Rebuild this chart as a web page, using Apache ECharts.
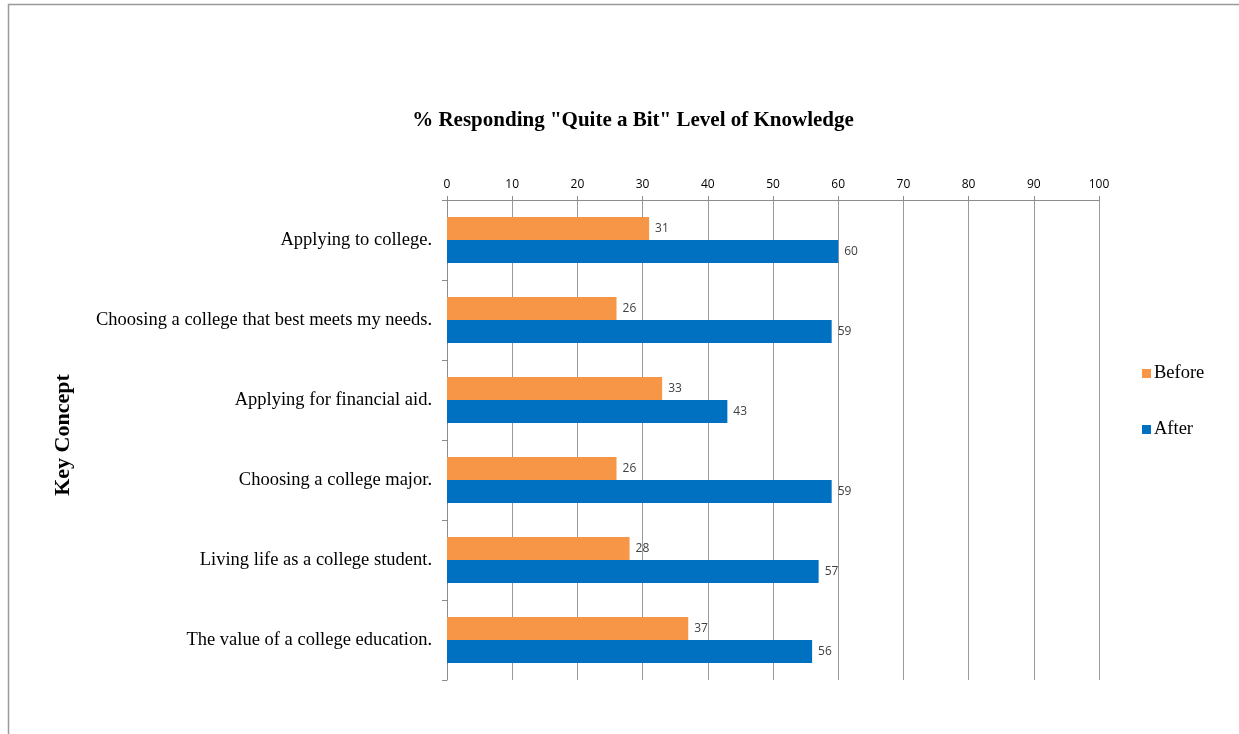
<!DOCTYPE html>
<html>
<head>
<meta charset="utf-8">
<script src="https://cdn.jsdelivr.net/npm/echarts@6/dist/echarts.min.js"></script>
<style>html,body{margin:0;padding:0;background:#fff}#c{width:1239px;height:734px}</style>
</head>
<body>
<div id="c"></div>
<script>
const categories = [
  "Applying to college.",
  "Choosing a college that best meets my needs.",
  "Applying for financial aid.",
  "Choosing a college major.",
  "Living life as a college student.",
  "The value of a college education."
];
const beforeValues = [31, 26, 33, 26, 28, 37];
const afterValues = [60, 59, 43, 59, 57, 56];
const xTicks = [0, 10, 20, 30, 40, 50, 60, 70, 80, 90, 100];

const chart = echarts.init(document.getElementById('c'), null, {renderer: 'canvas'});
const serif = '"Liberation Serif", "Times New Roman", serif';
const sans = '"Open Sans", "Liberation Sans", sans-serif';
chart.setOption({
  animation: false,
  backgroundColor: '#fff',
  graphic: [{
    type: 'rect', left: 6, top: 2, shape: {width: 1260, height: 760},
    style: {fill: 'none', stroke: '#9a9a9a', lineWidth: 1.5}, silent: true
  }],
  title: {
    text: '% Responding "Quite a Bit" Level of Knowledge',
    left: 628, top: 105, textAlign: 'center',
    textStyle: {fontFamily: serif, fontWeight: 'bold', fontSize: 21, color: '#000'}
  },
  legend: {
    orient: 'vertical', left: 1137, top: 359, itemGap: 37,
    itemWidth: 9, itemHeight: 9, icon: 'rect',
    textStyle: {fontFamily: serif, fontSize: 18.5, color: '#000', padding: [0, 0, 0, -2]},
    data: ['Before', 'After']
  },
  grid: {left: 447, right: 140, top: 200, bottom: 54, containLabel: false},
  xAxis: {
    type: 'value', position: 'top', min: xTicks[0], max: xTicks[xTicks.length - 1], interval: 10,
    axisLine: {show: true, lineStyle: {color: '#8c8c8c'}},
    axisTick: {show: true, length: 4, lineStyle: {color: '#8c8c8c'}},
    axisLabel: {fontFamily: sans, fontSize: 12, color: '#000', margin: 9},
    splitLine: {show: true, lineStyle: {color: '#9a9a9a', width: 1}}
  },
  yAxis: {
    type: 'category', data: categories, inverse: true,
    name: 'Key Concept', nameLocation: 'middle', nameGap: 373, nameRotate: 90,
    nameTextStyle: {fontFamily: serif, fontWeight: 'bold', fontSize: 22, color: '#000', padding: [0, 0, 0, 10]},
    axisLine: {show: true, lineStyle: {color: '#8c8c8c'}},
    axisTick: {show: true, length: 5, lineStyle: {color: '#8c8c8c'}},
    axisLabel: {fontFamily: serif, fontSize: 18.5, color: '#000', margin: 15}
  },
  series: [
    {
      name: 'Before', type: 'bar', data: beforeValues, barWidth: 23, barGap: '0%',
      itemStyle: {color: '#F79646'},
      label: {show: true, position: 'right', distance: 6, fontFamily: sans, fontSize: 12, color: '#404040'}
    },
    {
      name: 'After', type: 'bar', data: afterValues, barWidth: 23, barGap: '0%',
      itemStyle: {color: '#0070C0'},
      label: {show: true, position: 'right', distance: 6, fontFamily: sans, fontSize: 12, color: '#404040'}
    }
  ]
});
</script>
</body>
</html>
